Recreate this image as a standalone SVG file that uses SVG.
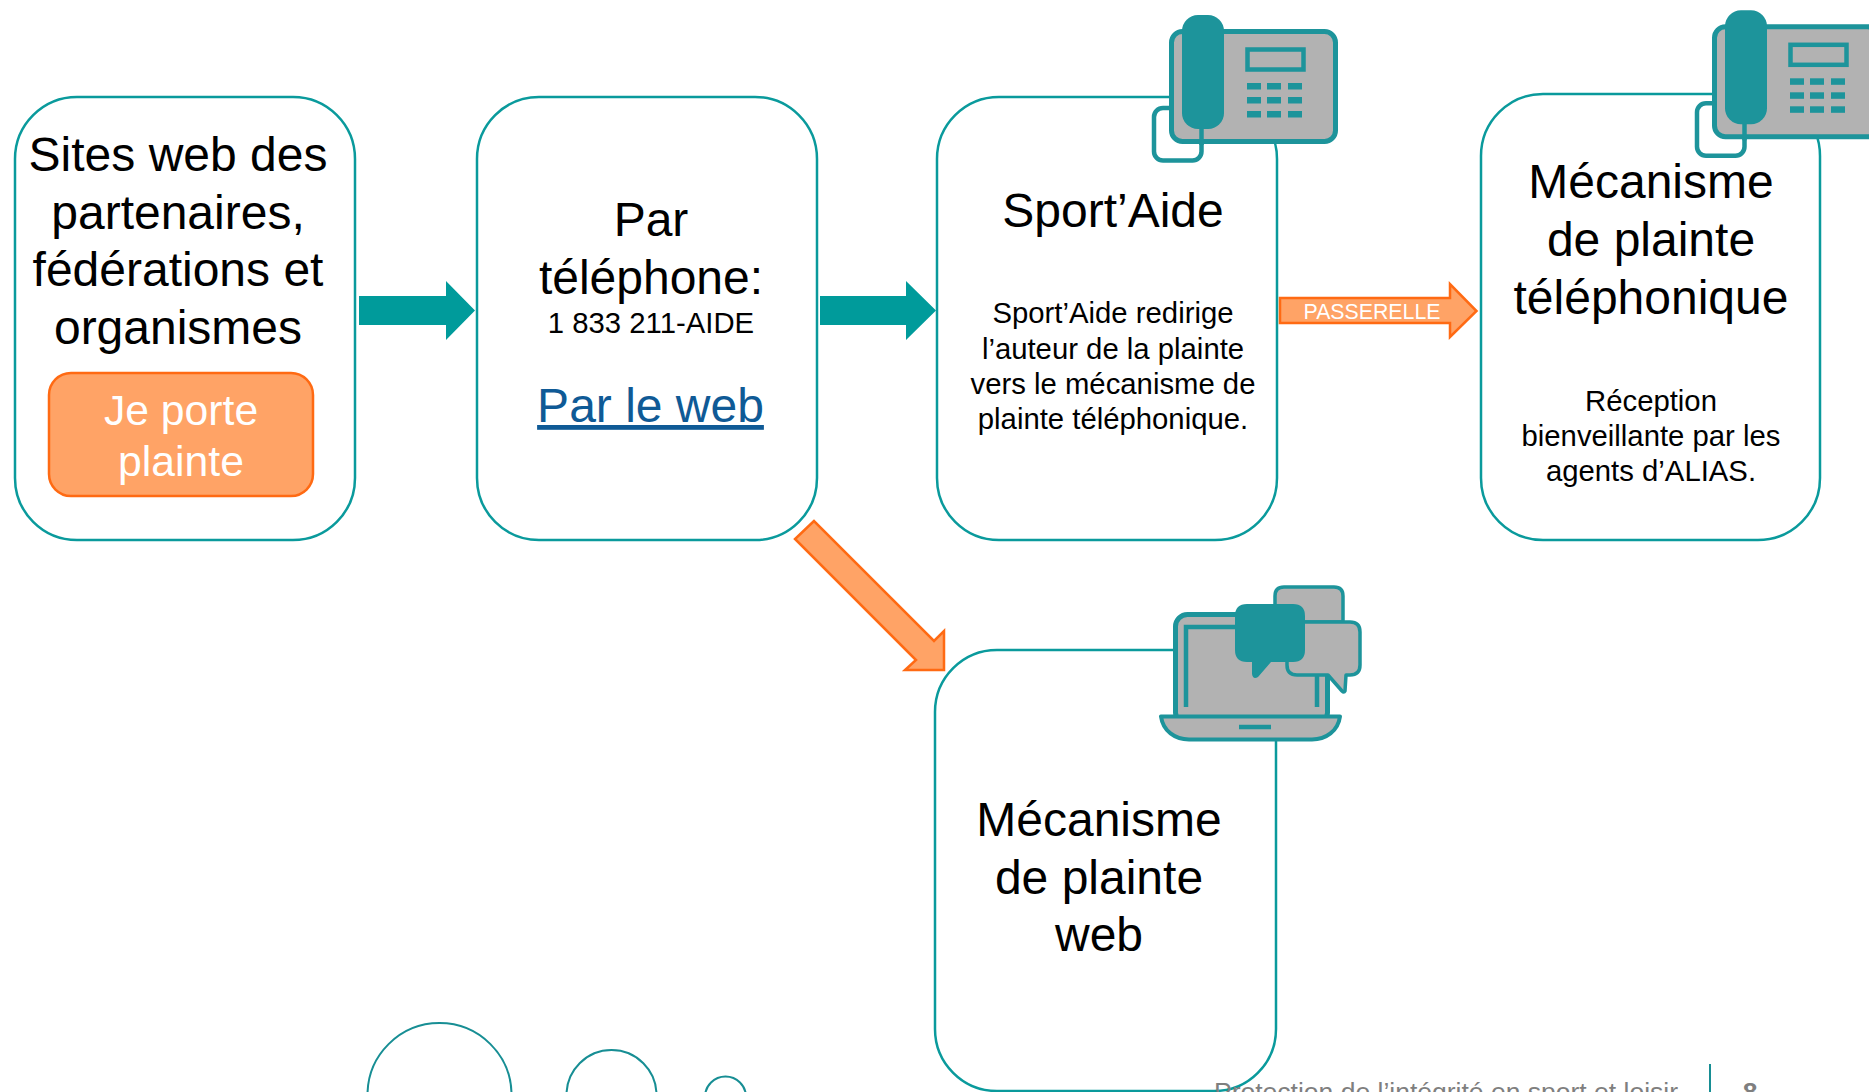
<svg xmlns="http://www.w3.org/2000/svg" xmlns:xlink="http://www.w3.org/1999/xlink" width="1869" height="1092" viewBox="0 0 1869 1092">
<style>
text{font-family:"Liberation Sans",Arial,sans-serif;text-anchor:middle;fill:#000}
.box{fill:#fff;stroke:#0a9a9c;stroke-width:2.5}
.h{font-size:48px}
.s{font-size:29.300px}
.ic{fill:#b2b2b2;stroke:#1d949b;stroke-width:5;stroke-linejoin:round}
.tf{fill:#1d949b}
.tl{fill:none;stroke:#1d949b;stroke-width:4.500}
.org{fill:#ffa366;stroke:#ff6a13;stroke-width:2.5}
.teal{fill:#009b9b}
.deco{fill:none;stroke:#178e94;stroke-width:2}
.ft{font-size:26.500px;fill:#7f7f7f}
</style>
<defs>
<g id="phone">
<rect class="tl" x="1154" y="108" width="47.500" height="52.500" rx="9"/>
<rect class="ic" x="1171.500" y="31.500" width="164" height="110" rx="11"/>
<line class="tl" x1="1201.500" y1="125" x2="1201.500" y2="145"/>
<rect class="tf" x="1182" y="15" width="42" height="114" rx="16"/>
<rect class="tl" x="1247.500" y="49.500" width="56" height="20"/>
<g class="tf">
<rect x="1247" y="83" width="14" height="6.500"/><rect x="1267" y="83" width="14" height="6.500"/><rect x="1288" y="83" width="14" height="6.500"/>
<rect x="1247" y="97" width="14" height="6.500"/><rect x="1267" y="97" width="14" height="6.500"/><rect x="1288" y="97" width="14" height="6.500"/>
<rect x="1247" y="111" width="14" height="6.500"/><rect x="1267" y="111" width="14" height="6.500"/><rect x="1288" y="111" width="14" height="6.500"/>
</g>
</g>
</defs>

<g id="decor">
<circle class="deco" cx="439.500" cy="1095" r="72"/>
<circle class="deco" cx="611.500" cy="1095" r="45"/>
<circle class="deco" cx="725.500" cy="1097" r="20.500"/>
</g>

<g id="node-sites">
<rect class="box" x="15" y="97" width="340" height="443" rx="62"/>
<text class="h" x="178" y="171">Sites web des</text>
<text class="h" x="178" y="229">partenaires,</text>
<text class="h" x="178" y="286">fédérations et</text>
<text class="h" x="178" y="344">organismes</text>
<rect class="org" x="49" y="373" width="264" height="123" rx="22"/>
<text x="181" y="425" style="font-size:42.700px;fill:#fff">Je porte</text>
<text x="181" y="476" style="font-size:42.700px;fill:#fff">plainte</text>
</g>

<g id="node-par">
<rect class="box" x="477" y="97" width="340" height="443" rx="62"/>
<text class="h" x="651" y="236">Par</text>
<text class="h" x="651" y="294">téléphone:</text>
<text class="s" x="651" y="333">1 833 211-AIDE</text>
<text class="h" x="650.500" y="422" style="fill:#0f5a96;text-decoration:underline">Par le web</text>
</g>

<g id="node-sportaide">
<rect class="box" x="937" y="97" width="340" height="443" rx="62"/>
<use xlink:href="#phone" href="#phone"/>
<text class="h" x="1113" y="227">Sport’Aide</text>
<text class="s" x="1113" y="323">Sport’Aide redirige</text>
<text class="s" x="1113" y="359">l’auteur de la plainte</text>
<text class="s" x="1113" y="394">vers le mécanisme de</text>
<text class="s" x="1113" y="429">plainte téléphonique.</text>
</g>

<g id="node-telephonique">
<rect class="box" x="1481" y="94" width="339" height="446" rx="62"/>
<use xlink:href="#phone" href="#phone" transform="translate(543,-4.700)"/>
<text class="h" x="1651" y="198">Mécanisme</text>
<text class="h" x="1651" y="256">de plainte</text>
<text class="h" x="1651" y="314">téléphonique</text>
<text class="s" x="1651" y="411">Réception</text>
<text class="s" x="1651" y="446">bienveillante par les</text>
<text class="s" x="1651" y="481">agents d’ALIAS.</text>
</g>

<g id="node-web">
<rect class="box" x="935" y="650" width="341" height="441" rx="62"/>
<rect class="ic" x="1175.500" y="614.500" width="152" height="110" rx="12"/>
<path class="tl" d="M1186 707V627H1240M1317 660V707"/>
<path class="ic" d="M1161 716.500H1340C1338 731 1326 739.500 1312 739.500H1189C1175 739.500 1163 731 1161 716.500Z" style="stroke-width:4"/>
<line class="tl" x1="1239" y1="727" x2="1271" y2="727"/>
<path class="ic" d="M1275 622V596Q1275 587 1284 587H1334Q1343 587 1343 596V622Z" style="stroke-width:3.500"/>
<path class="ic" d="M1296 622H1350Q1360 622 1360 632V665Q1360 675 1350 675H1346L1345 691Q1344 693 1342 691L1328 675H1297Q1287 675 1287 665V631Z" style="stroke-width:3.500"/>
<path class="tf" d="M1247 604H1293Q1305 604 1305 616V650Q1305 662 1293 662H1271L1258 677Q1253 680 1252 674V662H1247Q1235 662 1235 650V616Q1235 604 1247 604Z"/>
<text class="h" x="1099" y="836">Mécanisme</text>
<text class="h" x="1099" y="894">de plainte</text>
<text class="h" x="1099" y="951">web</text>
</g>

<g id="footer">
<text class="ft" x="1446" y="1101">Protection de l’intégrité en sport et loisir</text>
<line x1="1710" y1="1064" x2="1710" y2="1092" stroke="#178e94" stroke-width="2"/>
<text class="ft" x="1750" y="1101" style="font-weight:bold">8</text>
</g>

<g id="connectors">
<path class="teal" d="M359 296H446V281L475 310.500L446 340V325H359Z"/>
<path class="teal" d="M820 296H906V281L936 310.500L906 340V325H820Z"/>
<path class="org" d="M1280 298H1450V284L1476.500 311L1450 337V323H1280Z"/>
<text x="1372" y="318.500" style="font-size:21.300px;fill:#fff">PASSERELLE</text>
<path class="org" d="M814 521L795 539L916 660L905 670H944V631L934 641Z"/>
</g>
</svg>
